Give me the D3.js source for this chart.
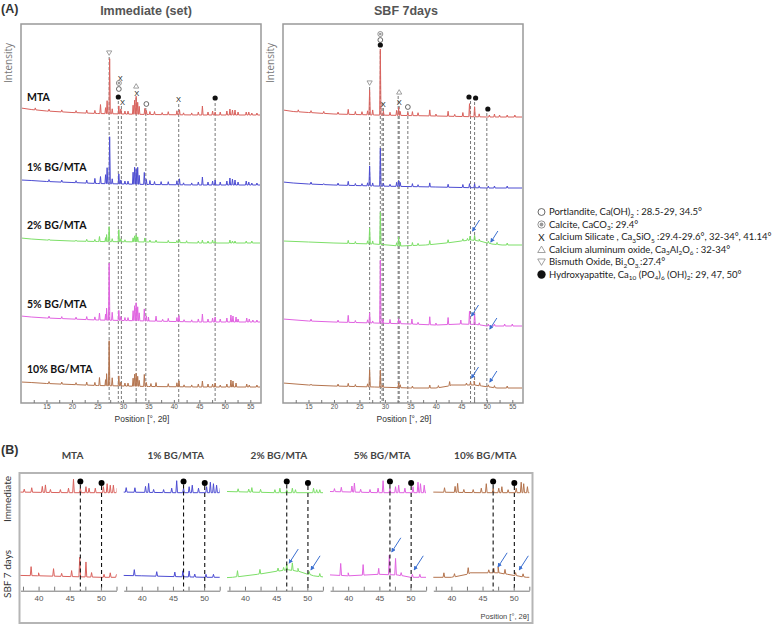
<!DOCTYPE html>
<html>
<head>
<meta charset="utf-8">
<script src="https://cdn.jsdelivr.net/npm/d3@7"></script>
<style>
body { margin: 0; background: #fff; }
</style>
</head>
<body>
<svg id="chart"></svg>
<script>
// ---------- data ----------
var samples = ["MTA", "1% BG/MTA", "2% BG/MTA", "5% BG/MTA", "10% BG/MTA"];
var xTicks = [15, 20, 25, 30, 35, 40, 45, 50, 55];
var zoomTicks = [40, 45, 50];

// diffraction peaks [2theta, intensity above background], immediate (set)
var immPeaks = [
  [[12.8,2],[15.5,2],[18.0,2],[20.8,2],[22.9,3],[24.5,3],[25.6,9],[26.6,6],[26.9,13],[27.4,55],[27.9,5],[29.2,8],[29.6,5],[30.4,3],[31.0,3],[32.0,9],[32.3,14],[32.6,18],[32.9,12],[33.2,8],[34.3,6],[34.6,4],[35.3,3],[36.2,3],[37.7,2],[38.9,3],[40.6,4],[41.1,5],[41.9,2],[43.5,2],[44.8,3],[45.6,9],[46.7,3],[47.6,4],[48.1,3],[49.1,3],[50.4,4],[51.0,6],[51.5,5],[52.0,5],[52.6,3],[54.2,3],[54.7,3],[55.3,2],[56.3,2]],
  [[15.5,2],[18.0,2],[20.8,2],[22.9,3],[24.5,5],[25.6,7],[26.6,9],[26.9,16],[27.4,47],[27.9,5],[29.2,10],[29.6,4],[30.4,3],[31.0,3],[32.0,12],[32.3,17],[32.6,15],[32.9,17],[33.2,9],[34.2,12],[34.6,5],[35.3,4],[36.2,3],[37.5,3],[38.9,3],[40.6,4],[41.1,6],[41.9,2],[43.5,2],[44.8,3],[45.6,8],[46.7,3],[47.6,4],[48.1,5],[49.1,3],[50.4,4],[51.0,7],[51.5,6],[52.0,5],[52.6,3],[54.2,4],[54.7,3],[55.3,2],[56.3,2]],
  [[15.5,1],[20.8,1],[22.9,2],[24.5,2],[25.4,5],[26.6,4],[26.8,7],[27.3,15],[27.9,3],[29.2,12],[29.6,3],[30.4,2],[32.0,4],[32.3,6],[32.6,7],[32.9,5],[34.3,4],[35.3,2],[36.5,2],[38.9,2],[40.6,2],[41.1,3],[42.5,2],[44.8,2],[45.6,3],[46.7,2],[47.6,3],[48.1,2],[51.0,3],[51.5,2],[52.0,2],[54.2,2],[55.3,2]],
  [[15.5,2],[18.0,2],[20.8,2],[22.9,3],[24.5,3],[25.4,7],[26.6,6],[26.8,12],[27.3,57],[27.9,8],[29.2,10],[29.6,4],[30.4,3],[31.0,3],[32.0,10],[32.3,15],[32.6,18],[32.9,14],[33.2,8],[34.2,12],[34.6,5],[35.0,4],[36.5,5],[37.8,2],[38.9,3],[40.6,4],[41.0,6],[42.0,2],[43.5,2],[44.8,3],[45.6,8],[46.7,3],[47.6,4],[48.1,5],[49.1,3],[50.4,4],[51.2,7],[51.6,6],[52.2,5],[52.6,3],[54.3,4],[54.8,3],[55.5,2],[56.3,2]],
  [[15.5,2],[18.0,2],[20.8,2],[22.9,3],[24.5,3],[25.4,8],[26.6,6],[26.8,12],[27.3,45],[27.9,8],[29.2,10],[29.6,4],[30.4,3],[31.0,3],[32.0,8],[32.3,12],[32.6,13],[32.9,10],[33.2,6],[34.2,12],[34.6,4],[35.5,3],[36.5,4],[38.9,3],[40.6,4],[41.0,6],[42.0,2],[43.5,2],[44.8,3],[45.6,6],[46.7,3],[47.6,3],[48.1,4],[49.1,2],[50.4,3],[51.2,7],[51.6,6],[52.2,4],[54.3,3],[54.8,2],[56.3,2]]
];

// diffraction peaks, SBF 7 days
var sbfPeaks = [
  [[13.0,2],[15.5,2],[18.0,2],[20.8,2],[22.8,5],[24.2,3],[25.5,3],[26.6,4],[27.0,25],[27.6,5],[29.1,66],[29.7,4],[31.0,3],[32.3,5],[32.7,8],[33.0,4],[34.5,3],[35.4,4],[36.5,3],[38.8,6],[40.0,2],[42.4,5],[43.7,2],[45.3,4],[46.6,13],[47.6,10],[48.5,3],[50.5,2],[51.5,3],[52.5,2],[54.0,2],[55.5,2]],
  [[15.5,2],[18.0,1],[20.8,2],[22.8,4],[24.2,2],[25.5,2],[26.6,3],[27.0,20],[27.6,3],[29.1,38],[29.7,3],[31.0,2],[32.3,4],[32.7,6],[33.0,4],[35.4,3],[36.5,2],[38.8,4],[42.4,3],[45.3,3],[46.6,4],[47.6,4],[48.5,2],[50.3,2],[51.5,2],[54.0,2]],
  [[22.8,3],[24.2,2],[26.6,3],[27.0,16],[27.6,3],[29.1,32],[32.3,3],[32.7,9],[33.0,4],[35.4,3],[36.5,2],[38.8,4],[42.4,3],[45.3,2],[46.2,2],[46.7,4],[47.6,5],[48.5,2],[50.3,2],[52.0,2],[54.0,2]],
  [[15.5,2],[20.8,2],[22.8,7],[24.2,2],[26.6,3],[27.0,10],[27.6,2],[29.1,63],[29.6,4],[31.0,4],[32.7,5],[33.0,3],[35.3,5],[36.5,2],[38.8,8],[40.0,2],[42.4,7],[44.9,4],[46.6,13],[47.6,11],[48.5,2],[50.3,2],[51.5,2],[53.5,2],[55.0,2]],
  [[15.5,1],[20.8,2],[22.8,3],[24.2,2],[26.6,3],[27.0,17],[29.1,17],[29.6,2],[32.7,5],[33.0,3],[35.4,2],[38.8,3],[40.5,2],[42.7,4],[46.0,2],[46.8,3],[47.5,4],[48.6,3],[50.3,2],[51.5,2],[54.0,2]]
];

// background [2theta, level]
var immBg = [
  [[10,7],[12,5.5],[15,4],[20,2.5],[25,1.5],[35,0.5],[45,0],[57.5,0]],
  [[10,5],[12,4.5],[15,3.5],[20,2.5],[25,1.5],[35,0.5],[45,0],[57.5,0]],
  [[10,5],[12,4],[15,3],[20,2],[25,1.5],[35,1],[45,0],[57.5,0]],
  [[10,6],[12,5],[15,4],[20,3],[25,2],[35,1],[45,0],[57.5,0]],
  [[10,5],[12,4.5],[15,3.5],[20,2.5],[25,1.5],[35,0.5],[45,0],[57.5,0]]
];
var sbfBg = [
  [[10,7],[12,5.5],[15,4.5],[20,3],[28,2],[40,1],[50,0],[57.5,0]],
  [[10,6],[12,5],[15,4],[20,3],[28,2],[40,1],[50,0],[57.5,0]],
  [[10,4],[15,3],[20,2],[28,1],[33,-1],[38,0],[42,2],[45,4],[47,5],[48.5,4],[51,1],[53,0],[57.5,0]],
  [[10,7],[15,5],[20,4],[28,3],[35,2],[40,1],[45,2],[48,1.5],[50,0],[57.5,0]],
  [[10,5],[15,3],[20,2],[28,1],[35,0],[40,0],[42.5,2],[43,3],[47.5,3],[49,2],[52,0],[57.5,0]]
];

// phase markers [2theta, intensity, symbol]
var immMarks = [[27.3,350,"tdown"],[29.5,325,"x"],[29.2,320,"dcircle"],[29.2,314,"circle"],[29.1,306,"dot"],[29.9,301,"x"],[32.6,317,"tup"],[32.7,310,"x"],[34.6,299,"circle"],[40.9,304,"x"],[48.1,305,"dot"]];
var sbfMarks = [[27.0,320,"tdown"],[29.1,369,"dcircle"],[29.1,363,"circle"],[29.1,358,"dot"],[29.7,299,"x"],[32.8,311,"tup"],[32.8,301,"x"],[34.5,296,"circle"],[46.5,306,"dot"],[47.8,305,"dot"],[50.2,294,"dot"]];

// reference lines [2theta, top intensity]
var immRefs = [[27.3,346],[29.1,302],[29.7,297],[32.6,305],[34.5,295],[40.95,299],[48.1,300]];
var sbfRefs = [[27.0,316],[29.1,352],[29.45,300],[29.7,295],[32.6,307],[32.8,297],[34.5,292],[46.8,302],[47.6,301],[50.0,290]];

// blue arrows in SBF panel [sample, 2theta, intensity above stack]
var sbfArrows = [[2,47.2,14],[2,50.8,3],[3,47.0,10],[3,50.6,-3],[4,47.0,10],[4,50.6,6]];

// panel B: hydroxyapatite reference lines and arrows
var hapLines = [[46.7,5.5],[50.1,4.5]];
var zoomArrows = [[2,47.1,9.5],[2,50.6,5],[3,47.0,17],[3,50.6,5],[4,47.5,7],[4,50.9,5]];

var legendSymbols = ["circle","dcircle","x","tup","tdown","dot"];
var legendLabels = [
  "Portlandite, Ca(OH)_{2} : 28.5-29, 34.5°",
  "Calcite, CaCO_{3}: 29.4°",
  "Calcium Silicate , Ca_{3}SiO_{5} :29.4-29.6°, 32-34°, 41.14°",
  "Calcium aluminum oxide, Ca_{3}Al_{2}O_{6} : 32-34°",
  "Bismuth Oxide, Bi_{2}O_{3.}:27.4°",
  "Hydroxyapatite, Ca_{10} (PO_{4})_{6} (OH)_{2}: 29, 47, 50°"
];

// ---------- layout ----------
var W = 778, H = 625;
var colors = ["#d9625d", "#4c4cd2", "#7ddf68", "#e163e1", "#b4744e"];
var immBase = [288, 218, 160, 81, 16];   // stacking offsets
var sbfBase = [286, 215, 158, 77, 15];
var axisFont = "'Liberation Sans', Arial, sans-serif";
var labelFont = "Lato, 'Open Sans', sans-serif";

var svg = d3.select("#chart").attr("width", W).attr("height", H)
  .style("font-family", axisFont);

var y = d3.scaleLinear().domain([0, 380]).range([403, 23]);

function tracePoints(peaks, bg) {
  var bgAt = d3.scaleLinear().domain(bg.map(function(d){ return d[0]; })).range(bg.map(function(d){ return d[1]; }));
  var pts = bg.map(function(d){ return [d[0], d[1]]; });
  peaks.forEach(function(p){
    var b = bgAt(p[0]);
    pts.push([p[0] - 0.13, b], [p[0], b + p[1]], [p[0] + 0.13, b]);
  });
  pts.sort(function(a, b){ return a[0] - b[0]; });
  return pts;
}

function drawSymbol(g, type, cx, cy, big) {
  var s = big ? 1.45 : 1;
  if (type === "dot") {
    g.append("circle").attr("cx", cx).attr("cy", cy).attr("r", 2.6 * (big ? 1.6 : 1)).attr("fill", "#111");
  } else if (type === "circle") {
    g.append("circle").attr("cx", cx).attr("cy", cy).attr("r", 2.4 * s)
      .attr("fill", "#fff").attr("stroke", "#444").attr("stroke-width", 0.8);
  } else if (type === "dcircle") {
    g.append("circle").attr("cx", cx).attr("cy", cy).attr("r", 2.5 * s)
      .attr("fill", "#fff").attr("stroke", "#777").attr("stroke-width", 0.8);
    g.append("circle").attr("cx", cx).attr("cy", cy).attr("r", 1.3 * s)
      .attr("fill", "#999");
  } else if (type === "x") {
    g.append("text").attr("x", cx).attr("y", cy).attr("text-anchor", "middle")
      .attr("dominant-baseline", "central").attr("font-size", 7.5 * (big ? 1.3 : 1))
      .attr("fill", "#222").text("X");
  } else if (type === "tup" || type === "tdown") {
    var d = type === "tup" ? -1 : 1, r = 2.6 * s;
    g.append("path")
      .attr("d", "M" + (cx - r) + "," + (cy - d * r * 0.8) + "L" + (cx + r) + "," + (cy - d * r * 0.8) + "L" + cx + "," + (cy + d * r * 0.9) + "Z")
      .attr("fill", "none").attr("stroke", "#888").attr("stroke-width", 0.8);
  }
}

svg.append("defs").append("marker")
  .attr("id", "arrowhead").attr("viewBox", "0 0 10 10").attr("refX", 8).attr("refY", 5)
  .attr("markerWidth", 4.5).attr("markerHeight", 4.5).attr("orient", "auto")
  .append("path").attr("d", "M0,0L10,5L0,10Z").attr("fill", "#3b6fd0");

function arrow(g, tx, ty, dx, dy) {
  g.append("line").attr("x1", tx + dx).attr("y1", ty + dy).attr("x2", tx).attr("y2", ty)
    .attr("stroke", "#3b6fd0").attr("stroke-width", 1).attr("marker-end", "url(#arrowhead)");
}

// ---------- panel A ----------
function panelA(x0, title, peaks, bgs, base, marks, refs, withLabels, titleX) {
  var x = d3.scaleLinear().domain([10, 57.1]).range([x0, x0 + 240]);
  var g = svg.append("g");
  var id = "clip" + x0;
  svg.select("defs").append("clipPath").attr("id", id)
    .append("rect").attr("x", x0 + 1).attr("y", 24).attr("width", 238).attr("height", 379);

  // reference lines
  g.append("g").selectAll("line").data(refs).join("line")
    .attr("x1", function(d){ return x(d[0]); }).attr("x2", function(d){ return x(d[0]); })
    .attr("y1", function(d){ return y(d[1]); }).attr("y2", y(0))
    .attr("stroke", "#555").attr("stroke-width", 0.8).attr("stroke-dasharray", "3,2");

  var line = d3.line().x(function(d){ return x(d[0]); });
  samples.forEach(function(name, i) {
    line.y(function(d){ return y(base[i] + d[1]); });
    g.append("path").attr("clip-path", "url(#" + id + ")")
      .attr("d", line(tracePoints(peaks[i], bgs[i])))
      .attr("fill", "none").attr("stroke", colors[i]).attr("stroke-width", 1);
    if (withLabels) {
      g.append("text").attr("x", x0 + 6).attr("y", y(base[i] + 18))
        .attr("dominant-baseline", "central").attr("font-family", labelFont)
        .attr("font-weight", "bold").attr("font-size", 10.5).attr("fill", "#111").text(name);
    }
  });

  marks.forEach(function(m){ drawSymbol(g, m[2], x(m[0]), y(m[1]), false); });

  // frame
  g.append("rect").attr("x", x0).attr("y", 24).attr("width", 240).attr("height", 379)
    .attr("fill", "none").attr("stroke", "#999").attr("stroke-width", 1.5);

  var ax = d3.axisBottom(x).tickValues(d3.range(12.5, 57, 2.5)).tickSize(-3).tickPadding(1)
    .tickFormat(function(d){ return xTicks.indexOf(d) >= 0 ? d : ""; });
  g.append("g").attr("transform", "translate(0,403)").call(ax)
    .call(function(s){ s.select(".domain").remove(); })
    .call(function(s){ s.selectAll("line").attr("stroke", "#777"); })
    .call(function(s){ s.selectAll("text").attr("font-size", 6.5).attr("fill", "#555").attr("font-family", axisFont); });

  g.append("text").attr("x", x0 + 121).attr("y", 422).attr("text-anchor", "middle")
    .attr("font-size", 8.5).attr("fill", "#333").text("Position [°, 2θ]");
  g.append("text").attr("transform", "translate(" + (x0 - 9) + ",63) rotate(-90)")
    .attr("text-anchor", "middle").attr("font-family", "'Open Sans', sans-serif")
    .attr("font-size", 10).attr("fill", "#777").text("Intensity");
  g.append("text").attr("x", titleX).attr("y", 15).attr("text-anchor", "middle")
    .attr("font-weight", "bold").attr("font-size", 12.5).attr("fill", "#555").text(title);
  return x;
}

panelA(21, "Immediate (set)", immPeaks, immBg, immBase, immMarks, immRefs, true, 146);
var xS = panelA(283, "SBF 7days", sbfPeaks, sbfBg, sbfBase, sbfMarks, sbfRefs, false, 406);

sbfArrows.forEach(function(a){
  arrow(svg, xS(a[1]), y(sbfBase[a[0]] + a[2]), 7, -11);
});

svg.append("text").attr("x", 1).attr("y", 13).attr("font-weight", "bold")
  .attr("font-size", 12.5).attr("fill", "#333").text("(A)");

// ---------- legend ----------
function richText(t, str, size) {
  var parts = str.split(/(_\{[^}]*\})/), shift = 0;
  parts.forEach(function(p){
    if (!p) return;
    if (p.charAt(0) === "_") {
      t.append("tspan").attr("font-size", size * 0.68).attr("dy", 2.5 - shift).text(p.slice(2, -1));
      shift = 2.5;
    } else {
      t.append("tspan").attr("dy", -shift).text(p);
      shift = 0;
    }
  });
}
var leg = svg.append("g").attr("font-family", labelFont);
legendLabels.forEach(function(lbl, i){
  var cy = 212 + i * 12.5;
  drawSymbol(leg, legendSymbols[i], 541.5, cy, true);
  var t = leg.append("text").attr("x", 549).attr("y", cy + 3.4)
    .attr("font-size", 9.5).attr("fill", "#222");
  richText(t, lbl, 9.5);
});

// ---------- panel B ----------
svg.append("text").attr("x", 1).attr("y", 454).attr("font-weight", "bold")
  .attr("font-size", 12.5).attr("fill", "#333").text("(B)");
svg.append("rect").attr("x", 19.5).attr("y", 473).attr("width", 513).attr("height", 150)
  .attr("fill", "none").attr("stroke", "#b5b5b5").attr("stroke-width", 2);

var immY = 492.7, sbfY = 577.3, axY = 590.7;
var yB = d3.scaleLinear().domain([0, 10]).range([0, 15]);

samples.forEach(function(name, i){
  var x0 = 20.5 + i * 103.2;
  var x = d3.scaleLinear().domain([37.1, 52.5]).range([x0, x0 + 96]);
  var g = svg.append("g");
  var id = "clipB" + i;
  svg.select("defs").append("clipPath").attr("id", id)
    .append("rect").attr("x", x0).attr("y", 474).attr("width", 96).attr("height", 120);

  g.append("text").attr("x", x0 + 52).attr("y", 459).attr("text-anchor", "middle")
    .attr("font-family", labelFont).attr("font-weight", "bold").attr("font-size", 10)
    .attr("fill", "#444").text(name);

  [[immPeaks, immBg, immY], [sbfPeaks, sbfBg, sbfY]].forEach(function(set){
    var line = d3.line().x(function(d){ return x(d[0]); })
      .y(function(d){ return set[2] - yB(d[1]); });
    g.append("path").attr("clip-path", "url(#" + id + ")")
      .attr("d", line(tracePoints(set[0][i], set[1][i])))
      .attr("fill", "none").attr("stroke", colors[i]).attr("stroke-width", 1);
  });

  hapLines.forEach(function(h){
    var cy = immY - yB(h[1]) - 3;
    g.append("line").attr("x1", x(h[0])).attr("x2", x(h[0]))
      .attr("y1", cy + 3).attr("y2", axY)
      .attr("stroke", "#111").attr("stroke-width", 1.1).attr("stroke-dasharray", "4,3");
    g.append("circle").attr("cx", x(h[0])).attr("cy", cy).attr("r", 3).attr("fill", "#000");
  });

  var ax = d3.axisBottom(x).tickValues([37.5, 40, 42.5, 45, 47.5, 50, 52.5])
    .tickSize(-4).tickSizeOuter(0).tickPadding(5)
    .tickFormat(function(d){ return zoomTicks.indexOf(d) >= 0 ? d : ""; });
  g.append("g").attr("transform", "translate(0," + axY + ")").call(ax)
    .call(function(s){ s.selectAll("line, .domain").attr("stroke", "#777"); })
    .call(function(s){ s.selectAll("text").attr("font-size", 8).attr("fill", "#555").attr("font-family", axisFont); });

  zoomArrows.filter(function(a){ return a[0] === i; }).forEach(function(a){
    arrow(g, x(a[1]), sbfY - yB(a[2]), 9, -14);
  });
});

svg.append("text").attr("transform", "translate(11,499) rotate(-90)").attr("text-anchor", "middle")
  .attr("font-family", labelFont).attr("font-size", 10).attr("fill", "#333").text("Immediate");
svg.append("text").attr("transform", "translate(11,574) rotate(-90)").attr("text-anchor", "middle")
  .attr("font-family", labelFont).attr("font-size", 10).attr("fill", "#333").text("SBF 7 days");
svg.append("text").attr("x", 529).attr("y", 619).attr("text-anchor", "end")
  .attr("font-size", 7.5).attr("fill", "#444").text("Position [°, 2θ]");
</script>
</body>
</html>
